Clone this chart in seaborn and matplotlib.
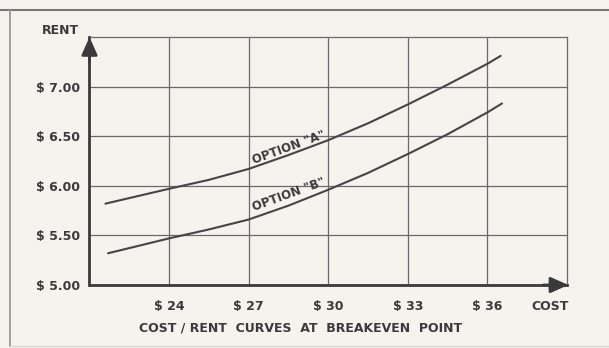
import matplotlib
matplotlib.use("Agg")
import matplotlib.pyplot as plt
import seaborn as sns
import pandas as pd
from matplotlib.lines import Line2D

# Breakeven rent at each construction cost, for two options
cost_a = [21.6, 24, 25.5, 27, 28.5, 30, 31.5, 33, 34.5, 36, 36.5]
rent_a = [5.82, 5.97, 6.06, 6.17, 6.31, 6.46, 6.63, 6.82, 7.02, 7.23, 7.31]
cost_b = [21.7, 24, 25.5, 27, 28.5, 30, 31.5, 33, 34.5, 36, 36.55]
rent_b = [5.32, 5.47, 5.56, 5.66, 5.80, 5.96, 6.13, 6.32, 6.52, 6.74, 6.83]

x_ticks = [24, 27, 30, 33, 36]
x_labels = ["$ 24", "$ 27", "$ 30", "$ 33", "$ 36"]
y_ticks = [5.0, 5.5, 6.0, 6.5, 7.0]
y_labels = ["$ 5.00", "$ 5.50", "$ 6.00", "$ 6.50", "$ 7.00"]

df = pd.concat([
    pd.DataFrame({"cost": cost_a, "rent": rent_a, "option": "A"}),
    pd.DataFrame({"cost": cost_b, "rent": rent_b, "option": "B"}),
])

sns.set_theme(style="white")
plt.rcParams["font.family"] = ["DejaVu Sans"]

BG = "#f4f3ee"
INK = "#3a3a3a"
GRID = "#6a6a6a"

fig = plt.figure(figsize=(6.09, 3.48), dpi=100, facecolor=BG)
ax = fig.add_axes([89.5 / 609, 1 - 285 / 348, (567 - 89.5) / 609, (285 - 37) / 348])
ax.set_facecolor(BG)

sns.lineplot(data=df, x="cost", y="rent", units="option", estimator=None,
             color="#454545", linewidth=1.5, ax=ax, sort=True)

ax.set_xlim(21, 39)
ax.set_ylim(5.0, 7.5)
ax.set_xticks(x_ticks)
ax.set_xticklabels(x_labels)
ax.set_yticks(y_ticks)
ax.set_yticklabels(y_labels)
ax.set_xlabel("")
ax.set_ylabel("")

ax.grid(True, color=GRID, linewidth=0.9)
for side in ("top", "right"):
    ax.spines[side].set_visible(True)
    ax.spines[side].set_color(GRID)
    ax.spines[side].set_linewidth(0.9)
for side in ("left", "bottom"):
    ax.spines[side].set_color(INK)
    ax.spines[side].set_linewidth(2.0)

ax.tick_params(axis="both", direction="inout", length=11, width=1.3,
               color=INK, labelcolor=INK, labelsize=9)
ax.tick_params(axis="x", pad=5)
ax.tick_params(axis="y", pad=1)
for lab in ax.get_xticklabels() + ax.get_yticklabels():
    lab.set_fontweight("bold")

# Arrow heads on the two axes
arrow = dict(arrowstyle="-|>,head_length=0.9,head_width=0.4", color=INK,
             lw=2.0, shrinkA=0, shrinkB=0)
ax.annotate("", xy=(0, 1.0), xytext=(0, 0.9), xycoords="axes fraction",
            arrowprops=arrow, annotation_clip=False)
ax.annotate("", xy=(1.003, 0), xytext=(0.95, 0), xycoords="axes fraction",
            arrowprops=arrow, annotation_clip=False)

# Curve names written along the curves
ax.text(28.5, 6.39, 'OPTION "A"', rotation=20, ha="center", va="center",
        fontsize=8.5, fontweight="bold", color=INK, rotation_mode="anchor")
ax.text(28.5, 5.91, 'OPTION "B"', rotation=20, ha="center", va="center",
        fontsize=8.5, fontweight="bold", color=INK, rotation_mode="anchor")

fig.text(79 / 609, 1 - 31 / 348, "RENT", ha="right", va="center",
         fontsize=9, fontweight="bold", color=INK)
fig.text(550 / 609, 1 - 306 / 348, "COST", ha="center", va="center",
         fontsize=9, fontweight="bold", color=INK)
fig.text(301 / 609, 1 - 328 / 348, "COST / RENT  CURVES  AT  BREAKEVEN  POINT",
         ha="center", va="center", fontsize=9, fontweight="bold", color=INK)

# Outer frame
fig.add_artist(Line2D([0, 1], [1 - 10 / 348] * 2, color="#777777", lw=1.5,
                      transform=fig.transFigure))
fig.add_artist(Line2D([10 / 609] * 2, [1 - 10 / 348, 2 / 348], color="#999999",
                      lw=1.3, transform=fig.transFigure))
fig.add_artist(Line2D([10 / 609, 1], [2 / 348] * 2, color="#d8d8d2", lw=1.0,
                      transform=fig.transFigure))

fig.savefig("out.png", dpi=100, facecolor=BG)
